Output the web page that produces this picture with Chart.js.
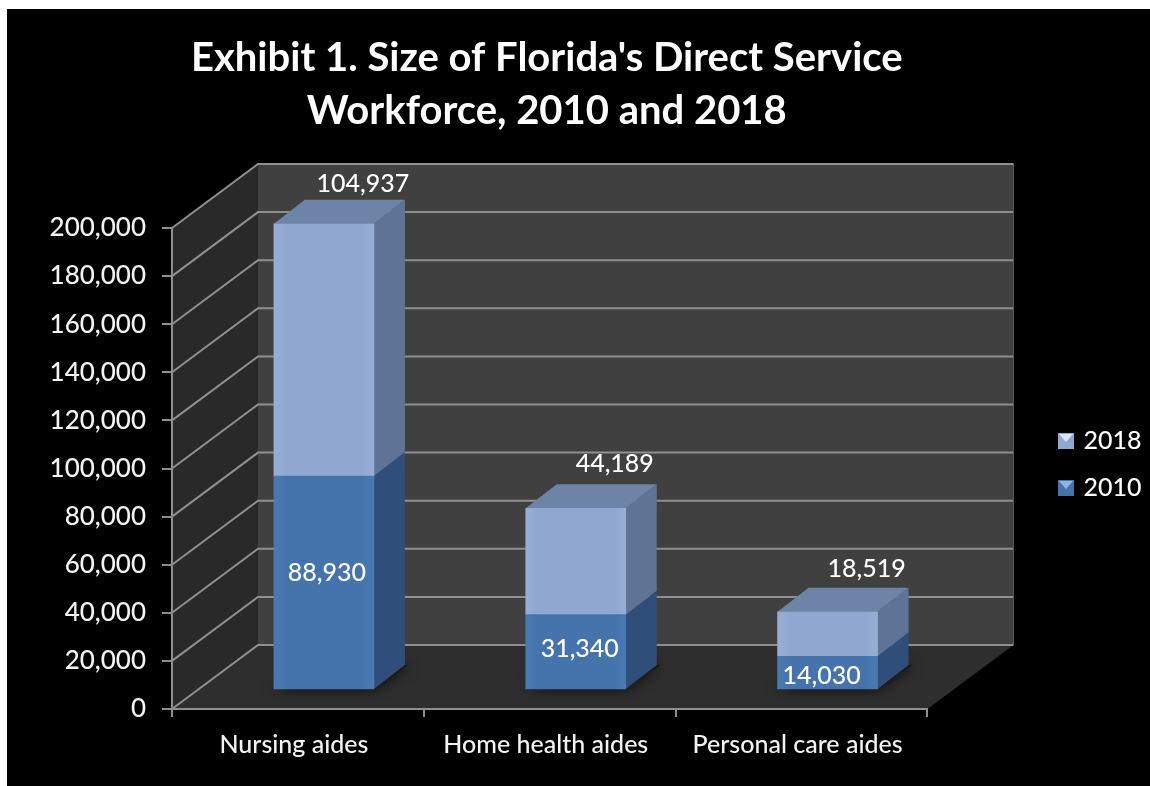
<!DOCTYPE html>
<html>
<head>
<meta charset="utf-8">
<title>Exhibit 1</title>
<script src="https://cdn.jsdelivr.net/npm/chart.js@4"></script>
<style>
    html, body { margin: 0; background: #fff; }
    #myChart { position: absolute; left: 7px; top: 9px; background: #000; }
</style>
</head>
<body>
<canvas id="myChart" width="1143" height="777"></canvas>
<script>
const categories = ['Nursing aides', 'Home health aides', 'Personal care aides'];
const workers2010 = [88930, 31340, 14030];
const workers2018 = [104937, 44189, 18519];
const titleLines = ["Exhibit 1. Size of Florida's Direct Service", 'Workforce, 2010 and 2018'];

const FONT = 'Lato, Carlito, sans-serif';
const wallDepth = { x: 86, y: -64 };
const barShift = { x: 26, y: -19 };
const barDepth = { x: 31, y: -24 };
const lightBar = { edge: '#97aed5', mid: '#90a8d0', side: '#5f7396', top: '#6d83a8' };
const darkBar = { edge: '#4a7ab2', mid: '#4574ac', side: '#2f4f7a' };
// label nudges, the source chart placed these by hand
const lowNudge = [[3, -10], [4, -3], [-6, 3]];
const topNudge = [[39, -40], [39, -44], [39, -43]];

function frontFill(colors) {
    return function (context) {
        const xScale = context.chart.scales.x;
        if (!xScale || context.dataIndex === undefined) return colors.mid;
        const cx = xScale.getPixelForValue(context.dataIndex);
        const g = context.chart.ctx.createLinearGradient(cx - 50, 0, cx + 50, 0);
        g.addColorStop(0, colors.edge);
        g.addColorStop(0.12, colors.mid);
        g.addColorStop(0.88, colors.mid);
        g.addColorStop(1, colors.edge);
        return g;
    };
}

function legendSwatch(base, shine) {
    const c = document.createElement('canvas');
    c.width = 16;
    c.height = 16;
    const g = c.getContext('2d');
    g.fillStyle = base;
    g.fillRect(0, 0, 16, 16);
    g.fillStyle = shine;
    g.beginPath();
    g.moveTo(1, 1);
    g.lineTo(15, 1);
    g.lineTo(8, 9);
    g.closePath();
    g.fill();
    return c;
}

function poly(ctx, points, fill) {
    ctx.beginPath();
    points.forEach(function (p, i) {
        if (i === 0) ctx.moveTo(p[0], p[1]);
        else ctx.lineTo(p[0], p[1]);
    });
    ctx.closePath();
    ctx.fillStyle = fill;
    ctx.fill();
}

const room = {
    id: 'room',
    afterLayout(chart) {
        // the legend sits far right of the plot and the library clips it to its box
        const legend = chart.legend;
        const moveX = 1032 - legend.left;
        const moveY = 397.5 - legend.top;
        legend.left += moveX;
        legend.right += moveX;
        legend.top += moveY;
        legend.bottom += moveY;
        chart.titleBlock.left -= 3;
        chart.titleBlock.right -= 3;
    },
    beforeDraw(chart) {
        const ctx = chart.ctx;
        const a = chart.chartArea;
        const y = chart.scales.y;
        const dx = wallDepth.x, dy = wallDepth.y;
        poly(ctx, [[a.left + dx, a.top + dy], [a.right + dx, a.top + dy], [a.right + dx, a.bottom + dy], [a.left + dx, a.bottom + dy]], '#404040');
        poly(ctx, [[a.left, a.bottom], [a.left + dx, a.bottom + dy], [a.left + dx, a.top + dy], [a.left, a.top]], '#292929');
        poly(ctx, [[a.left, a.bottom], [a.right, a.bottom], [a.right + dx, a.bottom + dy], [a.left + dx, a.bottom + dy]], '#2e2e2e');
        ctx.strokeStyle = '#8f8f8f';
        ctx.lineWidth = 2;
        y.ticks.forEach(function (t) {
            const py = y.getPixelForValue(t.value);
            ctx.beginPath();
            ctx.moveTo(a.left, py);
            ctx.lineTo(a.left + dx, py + dy);
            ctx.lineTo(a.right + dx, py + dy);
            ctx.stroke();
        });
        ctx.strokeStyle = '#5a5a5a';
        ctx.lineWidth = 1;
        ctx.beginPath();
        ctx.moveTo(a.right + dx, a.top + dy);
        ctx.lineTo(a.right + dx, a.bottom + dy);
        ctx.stroke();
    },
    beforeDatasetsDraw(chart) {
        const ctx = chart.ctx;
        const a = chart.chartArea;
        const dx = wallDepth.x, dy = wallDepth.y;
        const low = chart.getDatasetMeta(0).data;
        const high = chart.getDatasetMeta(1).data;

        // soft shadow on the floor
        ctx.save();
        ctx.beginPath();
        ctx.moveTo(a.left, a.bottom);
        ctx.lineTo(a.right, a.bottom);
        ctx.lineTo(a.right + dx, a.bottom + dy);
        ctx.lineTo(a.left + dx, a.bottom + dy);
        ctx.closePath();
        ctx.clip();
        low.forEach(function (bar) {
            const l = bar.x - bar.width / 2 + barShift.x;
            const r = bar.x + bar.width / 2 + barShift.x;
            const b = bar.base + barShift.y;
            ctx.shadowColor = 'rgba(0,0,0,0.75)';
            ctx.shadowBlur = 14;
            poly(ctx, [[l, b], [r, b], [r + barDepth.x + 4, b + barDepth.y], [l + barDepth.x, b + barDepth.y]], '#1a1a1a');
        });
        ctx.restore();

        // bars are drawn by the library, shifted back to the middle of the floor
        ctx.save();
        ctx.translate(barShift.x, barShift.y);
        function sideFace(bar, color) {
            const r = bar.x + bar.width / 2;
            poly(ctx, [[r, bar.y], [r + barDepth.x, bar.y + barDepth.y], [r + barDepth.x, bar.base + barDepth.y], [r, bar.base]], color);
        }
        low.forEach(function (bar) { sideFace(bar, darkBar.side); });
        high.forEach(function (bar) {
            sideFace(bar, lightBar.side);
            const l = bar.x - bar.width / 2;
            const r = bar.x + bar.width / 2;
            poly(ctx, [[l, bar.y], [l + barDepth.x, bar.y + barDepth.y], [r + barDepth.x, bar.y + barDepth.y], [r, bar.y]], lightBar.top);
        });
    },
    afterDatasetsDraw(chart) {
        const ctx = chart.ctx;
        ctx.restore();
        ctx.save();
        ctx.font = '500 25px ' + FONT;
        ctx.fillStyle = '#ffffff';
        ctx.textAlign = 'center';
        ctx.textBaseline = 'middle';
        chart.getDatasetMeta(0).data.forEach(function (bar, i) {
            ctx.fillText(workers2010[i].toLocaleString('en-US'),
                bar.x + barShift.x + lowNudge[i][0],
                (bar.y + bar.base) / 2 + barShift.y + lowNudge[i][1]);
        });
        chart.getDatasetMeta(1).data.forEach(function (bar, i) {
            ctx.fillText(workers2018[i].toLocaleString('en-US'),
                bar.x + barShift.x + topNudge[i][0],
                bar.y + barShift.y + topNudge[i][1]);
        });
        ctx.restore();
    }
};

new Chart(document.getElementById('myChart').getContext('2d'), {
    type: 'bar',
    plugins: [room],
    data: {
        labels: categories,
        datasets: [
            { label: '2010', data: workers2010, backgroundColor: frontFill(darkBar) },
            { label: '2018', data: workers2018, backgroundColor: frontFill(lightBar) }
        ]
    },
    options: {
        responsive: false,
        animation: false,
        events: [],
        barThickness: 100,
        layout: { padding: { left: 0, top: 0, right: 110, bottom: 0 } },
        plugins: {
            title: {
                display: true,
                text: titleLines,
                fullSize: false,
                color: '#ffffff',
                font: { family: FONT, size: 40, weight: 'bold', lineHeight: '53px' },
                padding: { top: 23, bottom: 90 }
            },
            tooltip: { enabled: false },
            legend: {
                position: 'right',
                align: 'start',
                reverse: true,
                labels: {
                    color: '#ffffff',
                    font: { family: FONT, size: 25, weight: '500' },
                    padding: 22,
                    usePointStyle: true,
                    pointStyleWidth: 10,
                    generateLabels: function () {
                        return [
                            { text: '2010', datasetIndex: 0, pointStyle: legendSwatch('#4574ac', '#8fb4e6'), fontColor: '#ffffff', lineWidth: 0 },
                            { text: '2018', datasetIndex: 1, pointStyle: legendSwatch('#90a8d0', '#dbe4f4'), fontColor: '#ffffff', lineWidth: 0 }
                        ];
                    }
                }
            }
        },
        scales: {
            x: {
                stacked: true,
                afterFit: function (scale) { scale.height = 77; },
                grid: { drawOnChartArea: false, color: '#8f8f8f', tickLength: 8, lineWidth: 2 },
                border: { color: '#8f8f8f', width: 2 },
                ticks: { color: '#f2f2f2', font: { family: FONT, size: 25, weight: '500' }, padding: 13, labelOffset: -4, maxRotation: 0, autoSkip: false }
            },
            y: {
                stacked: true,
                min: 0,
                max: 200000,
                afterFit: function (scale) { scale.width = 165; },
                grid: { drawOnChartArea: false, color: '#8f8f8f', tickLength: 10, lineWidth: 2 },
                border: { color: '#8f8f8f', width: 2 },
                ticks: {
                    stepSize: 20000,
                    padding: 16,
                    color: '#f2f2f2',
                    font: { family: FONT, size: 26, weight: '500' },
                    callback: function (v) { return v.toLocaleString('en-US'); }
                }
            }
        }
    }
});
</script>
</body>
</html>
